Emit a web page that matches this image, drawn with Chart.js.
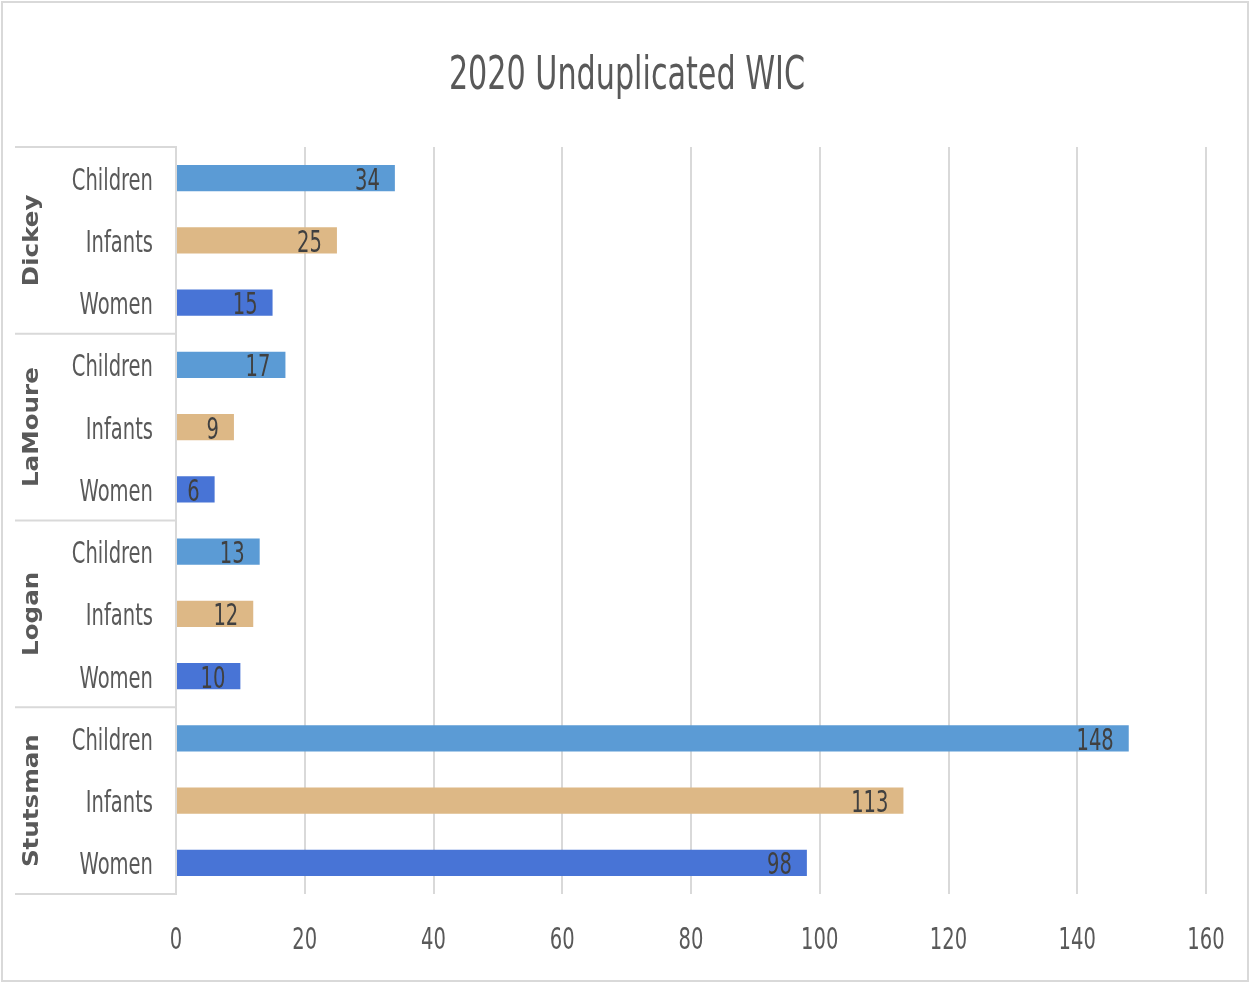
<!DOCTYPE html>
<html>
<head>
<meta charset="utf-8">
<script src="https://cdn.jsdelivr.net/npm/chart.js@4.4.1/dist/chart.umd.min.js"></script>
<style>
  html, body { margin: 0; padding: 0; background: #fff; }
  #wrap { width: 1250px; height: 983px; position: relative; }
</style>
</head>
<body>
<div id="wrap"><canvas id="canvas" width="1250" height="983"></canvas></div>
<script>
/* datos */
const groups = ['Dickey', 'LaMoure', 'Logan', 'Stutsman'];
const types = ['Children', 'Infants', 'Women'];
const dickey = [34, 25, 15];
const lamoure = [17, 9, 6];
const logan = [13, 12, 10];
const stutsman = [148, 113, 98];
const xMax = 160;
const xStep = 20;

const typeColors = ['#5B9BD5', '#DDB886', '#4874D6'];
const narrow = "'Liberation Sans Narrow', 'DejaVu Sans Condensed', 'Roboto Condensed', sans-serif";

var labels = [];
var values = [];
var colors = [];
[dickey, lamoure, logan, stutsman].forEach(function(g){
    g.forEach(function(v, i){
        labels.push(types[i]);
        values.push(v);
        colors.push(typeColors[i]);
    });
});

/* texto comprimido en horizontal */
function sText(c, txt, x, y, sx, align) {
    c.save();
    c.translate(x, y);
    c.scale(sx, 1);
    c.textAlign = align;
    c.fillText(txt, 0, 0);
    c.restore();
}

const extras = {
    id: 'extras',
    beforeDraw(chart) {
        const c = chart.ctx;
        c.save();
        c.strokeStyle = '#d9d9d9';
        c.lineWidth = 2;
        c.strokeRect(2, 2, 1246, 979);
        c.fillStyle = '#595959';
        c.font = '46px ' + narrow;
        c.textBaseline = 'alphabetic';
        sText(c, '2020 Unduplicated WIC', 627, 89, 0.73, 'center');
        c.restore();
    },
    afterDraw(chart) {
        const c = chart.ctx;
        const y = chart.scales.y;
        const x = chart.scales.x;
        const area = chart.chartArea;
        c.save();
        // separadores de grupo
        c.strokeStyle = '#d9d9d9';
        c.lineWidth = 2;
        for (let g = 0; g <= groups.length; g++) {
            let py;
            if (g === 0) py = area.top;
            else if (g === groups.length) py = area.bottom;
            else py = (y.getPixelForValue(g * 3 - 1) + y.getPixelForValue(g * 3)) / 2;
            c.beginPath();
            c.moveTo(15, py);
            c.lineTo(area.left, py);
            c.stroke();
        }
        // nombres de grupo
        c.fillStyle = '#595959';
        c.font = 'bold 21px "DejaVu Sans", sans-serif';
        c.textBaseline = 'middle';
        groups.forEach(function(name, g){
            const cy = y.getPixelForValue(g * 3 + 1);
            c.save();
            c.translate(33, cy);
            c.rotate(-Math.PI / 2);
            sText(c, name, 0, 0, 1.17, 'center');
            c.restore();
        });
        // etiquetas de categoria
        c.font = '31px ' + narrow;
        c.textBaseline = 'alphabetic';
        labels.forEach(function(lab, i){
            sText(c, lab, 153, y.getPixelForValue(i) + 11.5, 0.7, 'right');
        });
        // ticks eje x
        x.ticks.forEach(function(t){
            sText(c, String(t.value), x.getPixelForValue(t.value), 949, 0.7, 'center');
        });
        // valores
        const meta = chart.getDatasetMeta(0);
        c.fillStyle = '#404040';
        meta.data.forEach(function(bar, i){
            sText(c, String(values[i]), bar.x - 15, bar.y + 11.5, 0.7, 'right');
        });
        c.restore();
    }
};

const ctx = document.getElementById('canvas');

var chart1 = new Chart(ctx, {
    type: 'bar',
    data: {
        labels: labels,
        datasets: [{
            data: values,
            backgroundColor: colors,
            barPercentage: 0.42,
            categoryPercentage: 1
        }]
    },
    options: {
        indexAxis: 'y',
        responsive: false,
        animation: false,
        layout: { padding: { top: 147, left: 0, right: 44, bottom: 0 } },
        plugins: {
            legend: { display: false },
            title: { display: false },
            tooltip: { enabled: false }
        },
        scales: {
            x: {
                min: 0,
                max: xMax,
                afterFit: function(s){ s.height = 89; },
                ticks: { stepSize: xStep, display: false },
                grid: { color: '#d9d9d9', lineWidth: 2, drawTicks: false },
                border: { display: false }
            },
            y: {
                afterFit: function(s){ s.width = 176; },
                ticks: { display: false },
                grid: { display: false, drawTicks: false },
                border: { display: true, color: '#d9d9d9', width: 2 }
            }
        }
    },
    plugins: [extras]
});
</script>
</body>
</html>
